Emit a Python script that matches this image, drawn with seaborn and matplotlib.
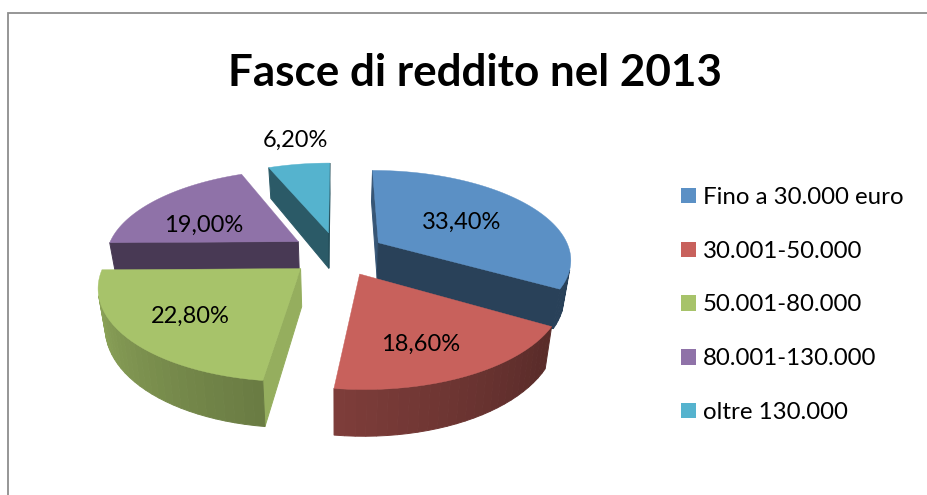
import numpy as np
import matplotlib
matplotlib.use("Agg")
import matplotlib.pyplot as plt
from matplotlib.patches import Patch
import seaborn as sns

# --- data ---
title = "Fasce di reddito nel 2013"
categories = ["Fino a 30.000 euro", "30.001-50.000", "50.001-80.000", "80.001-130.000", "oltre 130.000"]
shares = [33.4, 18.6, 22.8, 19.0, 6.2]
value_labels = ["33,40%", "18,60%", "22,80%", "19,00%", "6,20%"]

# --- style ---
colors = ["#5B90C5", "#C8615C", "#A7C36A", "#8F72A8", "#55B3CE"]
FONT = "Lato"
W, H = 928, 495
CX, CY, RX, RY, K = 337.5, 253.5, 192.5, 88.0, 0.17     # projection of the pie plane
THICK, BOTTOM_SCALE = 37.0, 0.97
EXPLODE = 0.25
START_SHADE = [0.60, 0.6, 0.89, 0.5, 0.5]
END_SHADE = [0.45, 0.5, 0.5, 0.5, 0.45]
LABEL_FRAC = [0.56, 0.64, 0.657, 0.58, 1.4]
LABEL_NUDGE = [(-2.5, 0.5), (-5, 7.5), (-2.5, 1.5), (-10, 7.5), (6.5, -3.5)]
DRAW_ORDER = [4, 3, 0, 2, 1]

sns.set_theme(style="white")
plt.rcParams["font.family"] = [FONT, "DejaVu Sans"]


def project(x, y):
    w = 1.0 / (1.0 + K * y)
    return CX + x * RX * w, CY - y * RY * w, w


def drop(x, y):
    sx, sy, w = project(x, y)
    return CX + (sx - CX) * BOTTOM_SCALE, sy + THICK * w


def rim_shade(a):
    return np.interp(a, [90, 125, 187, 269], [0.45, 0.45, 0.63, 0.88])


def dim(color, f):
    r = np.array(matplotlib.colors.to_rgb(color))
    return tuple(np.clip(r * f, 0, 1))


def wall(ax, p, q, color):
    xt = [project(*p)[0], project(*q)[0], drop(*q)[0], drop(*p)[0]]
    yt = [project(*p)[1], project(*q)[1], drop(*q)[1], drop(*p)[1]]
    area = sum(xt[i] * yt[(i + 1) % 4] - xt[(i + 1) % 4] * yt[i] for i in range(4))
    if area < 0:
        ax.fill(xt, yt, color=color, lw=0.7, zorder=ax._next_z)
        ax._next_z += 0.001


fig = plt.figure(figsize=(W / 100, H / 100), dpi=100, facecolor="white")
ax = fig.add_axes([0, 0, 1, 1])
ax.set_xlim(0, W)
ax.set_ylim(H, 0)
ax.axis("off")
ax._next_z = 2.0

# chart frame (open to the right and bottom edges of the image)
ax.plot([8, 8, W], [H, 12.5, 12.5], color="#8E8E8E", lw=1.3, solid_joinstyle="miter", zorder=1)

edges = np.concatenate([[0], np.cumsum(shares)]) / np.sum(shares) * 360.0

for i in DRAW_ORDER:
    a0, a1 = edges[i], edges[i + 1]
    mid = np.radians((a0 + a1) / 2)
    ox, oy = EXPLODE * np.sin(mid), EXPLODE * np.cos(mid)
    apex = (ox, oy)
    ang = np.linspace(a0, a1, max(2, int((a1 - a0) / 2.5) + 1))
    rim = [(ox + np.sin(np.radians(a)), oy + np.cos(np.radians(a))) for a in ang]

    wall(ax, apex, rim[0], dim(colors[i], START_SHADE[i]))
    wall(ax, rim[-1], apex, dim(colors[i], END_SHADE[i]))
    for j in range(len(rim) - 1):
        wall(ax, rim[j], rim[j + 1], dim(colors[i], rim_shade((ang[j] + ang[j + 1]) / 2)))

    fine = np.linspace(a0, a1, 80)
    pts = [apex] + [(ox + np.sin(np.radians(a)), oy + np.cos(np.radians(a))) for a in fine]
    sx = [project(*p)[0] for p in pts]
    sy = [project(*p)[1] for p in pts]
    ax.fill(sx, sy, color=colors[i], lw=0.3, zorder=ax._next_z)
    ax._next_z += 0.01

    f = LABEL_FRAC[i]
    lx, ly, _ = project(ox + f * np.sin(mid), oy + f * np.cos(mid))
    ax.text(lx + LABEL_NUDGE[i][0], ly + 8.5 + LABEL_NUDGE[i][1], value_labels[i],
            ha="center", va="baseline", fontsize=17, color="black", zorder=10)

ax.text(475.5, 86, title, ha="center", va="baseline", fontsize=31.7, fontweight="bold", color="black")

handles = [Patch(facecolor=c, edgecolor="none") for c in colors]
ax.legend(handles, categories, loc="center left", bbox_to_anchor=(681 / W, 1 - 305 / H),
          frameon=False, fontsize=17.3, labelspacing=1.36, handlelength=0.62, handleheight=0.62,
          handletextpad=0.3, borderpad=0, borderaxespad=0, labelcolor="black")

fig.savefig("out.png", dpi=100, facecolor="white")
